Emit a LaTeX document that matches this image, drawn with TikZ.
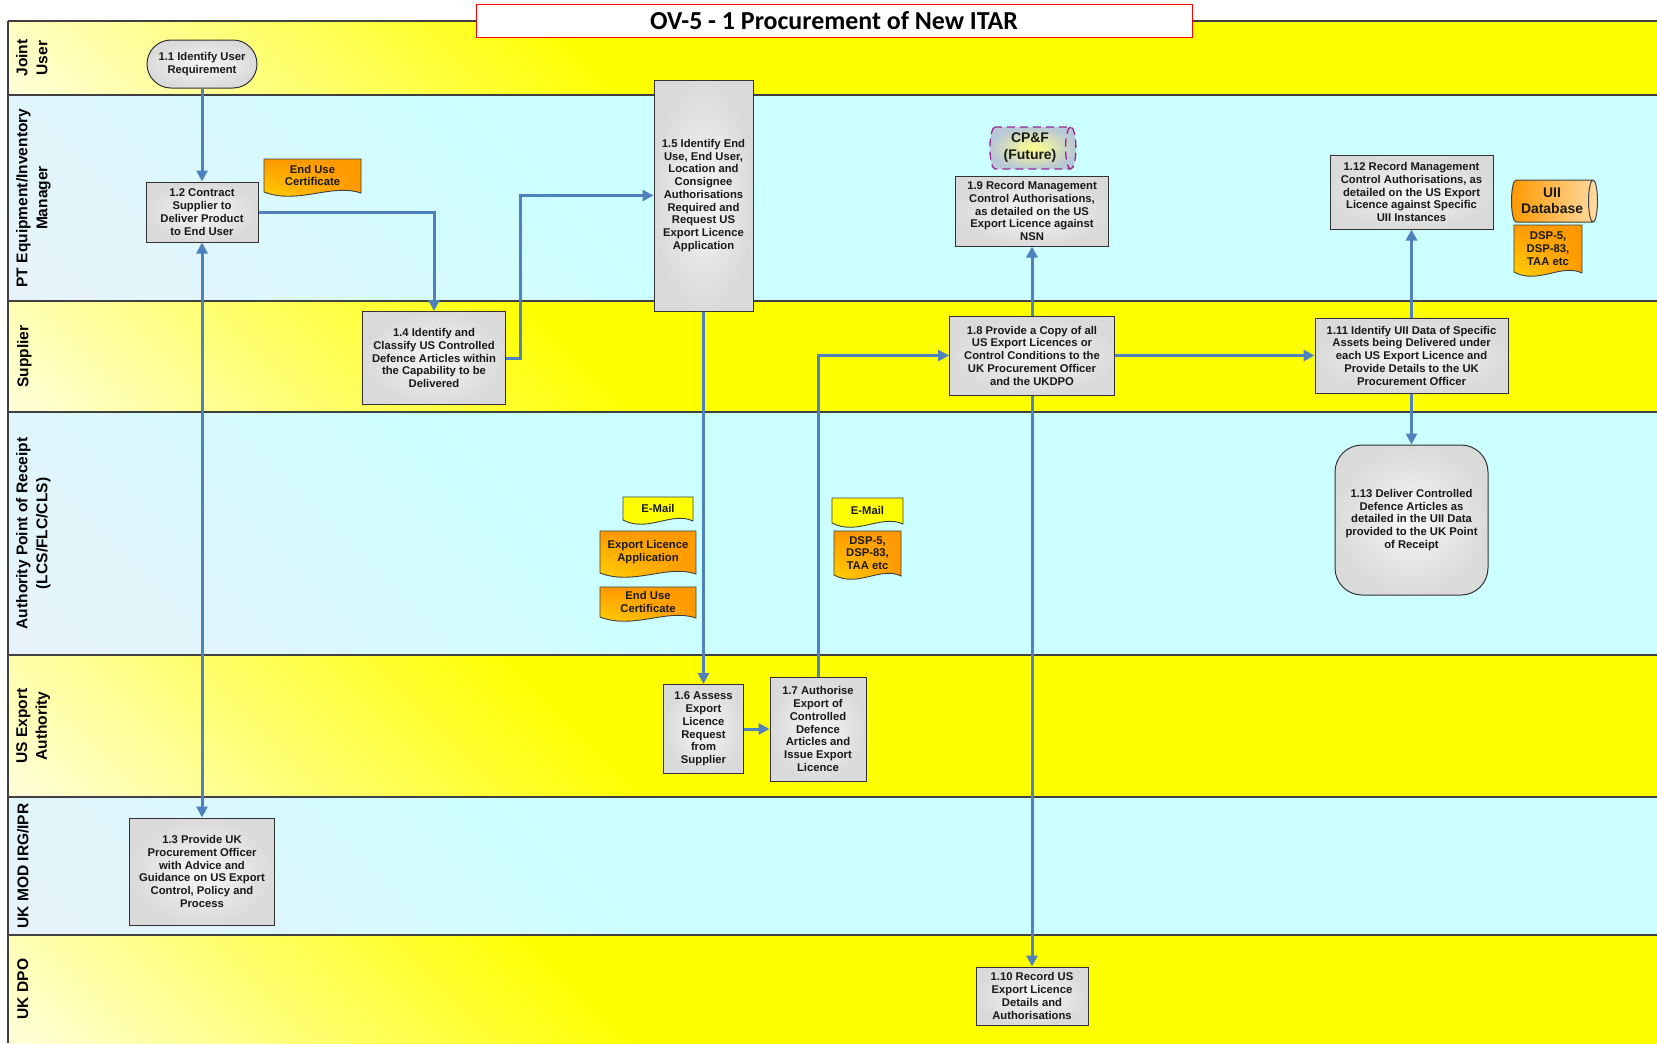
\documentclass[tikz,border=0pt]{standalone}
\usepackage{fontspec}
\setmainfont{Liberation Sans}
\newfontfamily\titlefnt{Carlito}
\usetikzlibrary{shapes.geometric,shapes.misc,arrows.meta,shadings}

\definecolor{lnblue}{RGB}{79,129,189}
\definecolor{yfull}{RGB}{255,255,0}
\definecolor{ypale}{RGB}{255,255,215}
\definecolor{cfull}{RGB}{204,255,255}
\definecolor{cpale}{RGB}{232,242,250}
\definecolor{boxin}{RGB}{246,246,246}
\definecolor{boxout}{RGB}{218,218,218}
\definecolor{docor}{RGB}{255,153,0}
\definecolor{docyl}{RGB}{255,220,0}
\definecolor{cpfline}{RGB}{150,40,150}
\definecolor{cpfout}{RGB}{185,200,215}
\definecolor{lanegray}{RGB}{64,64,64}

\pgfdeclarehorizontalshading{ylane}{100bp}{color(0bp)=(ypale); color(15bp)=(ypale); color(40bp)=(yfull); color(100bp)=(yfull)}
\pgfdeclarehorizontalshading{clane}{100bp}{color(0bp)=(cpale); color(15bp)=(cpale); color(40bp)=(cfull); color(100bp)=(cfull)}

\newcommand\boxfnt{\fontsize{11.3}{12.8}\selectfont\bfseries}
\newcommand\lanefnt{\fontsize{15.6}{20}\selectfont\bfseries}

\newcommand\docnode[7]{% name, x1, top, x2, bottom, style, text
  \path[#6] (#2,#3) -- (#4,#3) -- (#4,{#5+1}) .. controls ({#4-0.3*(#4-#2)},{#5-9}) and ({#2+0.35*(#4-#2)},{#5+13}) .. (#2,#5) -- cycle;
  \node[doctext] (#1) at ({(#2+#4)/2},{(#3+#5)/2}) {#7};
}

\tikzset{
  sz/.style 2 args={minimum width=#1bp, minimum height=#2bp},
  proc/.style={rectangle, draw=black!80, line width=1bp, inner color=boxin, outer color=boxout,
    align=center, font=\boxfnt, text=black!90, inner sep=1bp},
  ftip/.tip={Triangle[length=11bp,width=11bp]},
  flow/.style={draw=lnblue, line width=3bp, -ftip},
  dflow/.style={draw=lnblue, line width=3bp, ftip-ftip},
  lanelab/.style={rotate=90, anchor=north, align=center, font=\lanefnt, inner sep=0pt},
  laneline/.style={draw=lanegray, line width=1.3bp},
  ydoc/.style={draw=black!75, line width=0.9bp, fill=yfull},
  odoc/.style={draw=black!75, line width=0.9bp, upper left=docor, upper right=docor, lower right=docor, lower left=docyl},
  doctext/.style={align=center, font=\boxfnt, text=black!90, inner sep=0pt},
  store/.style={cylinder, shape aspect=0.35, minimum width=42bp, minimum height=86bp, align=center,
    inner sep=0pt, text=black!90},
}

\begin{document}
\begin{tikzpicture}[x=1bp,y=-1bp]
\useasboundingbox (0,0) rectangle (1657,1043);

% lanes
\shade[shading=ylane, shading angle=45] (8,21) rectangle (1657,95);
\shade[shading=clane, shading angle=45] (8,95) rectangle (1657,301);
\shade[shading=ylane, shading angle=45] (8,301) rectangle (1657,412);
\shade[shading=clane, shading angle=45] (8,412) rectangle (1657,655);
\shade[shading=ylane, shading angle=45] (8,655) rectangle (1657,797);
\shade[shading=clane, shading angle=45] (8,797) rectangle (1657,935);
\shade[shading=ylane, shading angle=45] (8,935) rectangle (1657,1043);
\foreach \yy in {21,95,301,412,655,797,935} {\draw[laneline] (8,\yy) -- (1657,\yy);}
\draw[laneline] (8,21) -- (8,1043);

% lane labels
\node[lanelab] (lju) at (16,58) {Joint\\User};
\node[lanelab] (lpt) at (16,198) {PT Equipment/Inventory\\Manager};
\node[lanelab] (lsup) at (17,356.5) {Supplier};
\node[lanelab] (lauth) at (16,533.5) {Authority Point of Receipt\\(LCS/FLC/CLS)};
\node[lanelab] (luse) at (16,726) {US Export\\Authority};
\node[lanelab] (lmod) at (17,866) {UK MOD IRG/IPR};
\node[lanelab] (ldpo) at (17,989) {UK DPO};

% title
\node[draw=red, fill=white, line width=1bp, minimum width=716bp, minimum height=33bp,
  font=\titlefnt\fontsize{26}{28}\selectfont\bfseries] (title) at (834,20.5) {OV-5 - 1 Procurement of New ITAR};

% process nodes
\node[proc, rounded rectangle, sz={112}{48}] (n11) at (202,64) {1.1 Identify User\\Requirement};
\node[proc, sz={112}{60}] (n12) at (202,212) {1.2 Contract\\Supplier to\\Deliver Product\\to End User};
\node[proc, sz={145}{107}] (n13) at (202,871.5) {1.3 Provide UK\\Procurement Officer\\with Advice and\\Guidance on US Export\\Control, Policy and\\Process};
\node[proc, sz={143}{93}] (n14) at (434,358) {1.4 Identify and\\Classify US Controlled\\Defence Articles within\\the Capability to be\\Delivered};
\node[proc, sz={99}{231}] (n15) at (703.5,195.5) {1.5 Identify End\\Use, End User,\\Location and\\Consignee\\Authorisations\\Required and\\Request US\\Export Licence\\Application};
\node[proc, sz={80}{89}] (n16) at (703.5,729) {1.6 Assess\\Export\\Licence\\Request\\from\\Supplier};
\node[proc, sz={96}{104}] (n17) at (818,729) {1.7 Authorise\\Export of\\Controlled\\Defence\\Articles and\\Issue Export\\Licence};
\node[proc, sz={165}{79}] (n18) at (1032,355.5) {1.8 Provide a Copy of all\\US Export Licences or\\Control Conditions to the\\UK Procurement Officer\\and the UKDPO};
\node[proc, sz={153}{70}] (n19) at (1032,211) {1.9 Record Management\\Control Authorisations,\\as detailed on the US\\Export Licence against\\NSN};
\node[proc, sz={112}{58}] (n110) at (1032,996) {1.10 Record US\\Export Licence\\Details and\\Authorisations};
\node[proc, sz={193}{75}] (n111) at (1411.5,355.5) {1.11 Identify UII Data of Specific\\Assets being Delivered under\\each US Export Licence and\\Provide Details to the UK\\Procurement Officer};
\node[proc, sz={163}{74}] (n112) at (1411.5,192) {1.12 Record Management\\Control Authorisations, as\\detailed on the US Export\\Licence against Specific\\UII Instances};
\node[proc, rounded corners=27bp, sz={153}{150}] (n113) at (1411.5,520) {1.13 Deliver Controlled\\Defence Articles as\\detailed in the UII Data\\provided to the UK Point\\of Receipt};

% data stores
\node[store, draw=cpfline, dash pattern=on 8bp off 5bp, line width=1.3bp,
  inner color=yellow!45!white, outer color=cpfout,
  font=\fontsize{14}{17}\selectfont\bfseries] (cpf) at (1030,148) {CP\&F\\(Future)};
\node[store, draw=black!75, line width=1bp,
  left color=docor, right color=docor!35!white,
  font=\fontsize{14}{16}\selectfont\bfseries] (uii) at (1552,201) {UII\\Database};

% documents
\docnode{deuc1}{264}{159}{361}{192}{odoc}{End Use\\Certificate}
\docnode{dem1}{623}{497}{693}{520}{ydoc}{E-Mail}
\docnode{dela}{600}{531}{696}{573}{odoc}{Export Licence\\Application}
\docnode{deuc2}{600}{587}{696}{617}{odoc}{End Use\\Certificate}
\docnode{dem2}{832}{498}{903}{523}{ydoc}{E-Mail}
\docnode{ddsp1}{834}{531}{901}{575}{odoc}{DSP-5,\\DSP-83,\\TAA etc}
\docnode{ddsp2}{1514}{225}{1582}{272}{odoc}{DSP-5,\\DSP-83,\\TAA etc}

% connectors
\coordinate (j1) at (520,300);
\draw[flow] (n11.south) -- (n12.north);
\draw[flow] (n12.east) -| (n14.north);
\draw[flow] (n14.east) -- (j1 |- n14.east) -- (j1 |- n15.west) -- (n15.west);
\draw[flow] (n15.south) -- (n16.north);
\draw[flow] (n16.east) -- (n17.west);
\draw[flow] (n17.north) |- (n18.west);
\draw[flow] (n18.north) -- (n19.south);
\draw[flow] (n18.south) -- (n110.north);
\draw[flow] (n18.east) -- (n111.west);
\draw[flow] (n111.north) -- (n112.south);
\draw[flow] (n111.south) -- (n113.north);
\draw[dflow] (n12.south) -- (n13.north);
\end{tikzpicture}
\end{document}
